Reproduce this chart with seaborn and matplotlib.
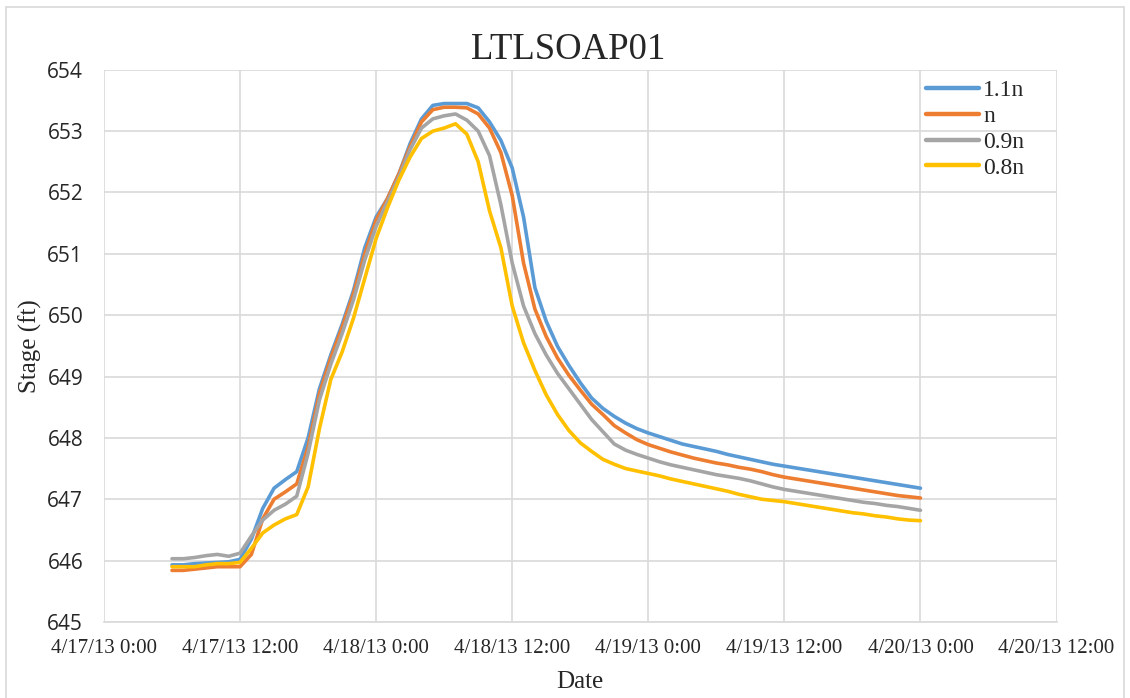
import pandas as pd

import matplotlib.pyplot as plt
import matplotlib.dates as mdates
from matplotlib.patches import Rectangle
from matplotlib.ticker import FuncFormatter

import seaborn as sns


# hourly readings, 4/17/13 6:00 -> 4/20/13 0:00
START_TIME = "2013-04-17 06:00"
N_HOURS = 67

stage_11n = [
    645.93, 645.93, 645.95, 645.96, 645.97, 645.98, 646.02, 646.35, 646.85, 647.18,
    647.32, 647.45, 648.00, 648.80, 649.35, 649.85, 650.40, 651.10, 651.60, 651.90,
    652.30, 652.80, 653.20, 653.42, 653.45, 653.45, 653.45, 653.38, 653.15, 652.85,
    652.40, 651.60, 650.45, 649.90, 649.49, 649.18, 648.90, 648.65, 648.48, 648.35,
    648.24, 648.15, 648.08, 648.02, 647.96, 647.90, 647.86, 647.82, 647.78, 647.73,
    647.69, 647.65, 647.61, 647.57, 647.54, 647.51, 647.48, 647.45, 647.42, 647.39,
    647.36, 647.33, 647.30, 647.27, 647.24, 647.21, 647.18,
]

stage_n = [
    645.84, 645.84, 645.86, 645.88, 645.90, 645.90, 645.90, 646.10, 646.68, 647.00,
    647.12, 647.25, 647.85, 648.72, 649.30, 649.80, 650.35, 651.00, 651.55, 651.90,
    652.30, 652.75, 653.15, 653.35, 653.39, 653.39, 653.38, 653.28, 653.05, 652.65,
    651.95, 650.85, 650.10, 649.65, 649.30, 649.02, 648.78, 648.55, 648.38, 648.20,
    648.08, 647.97, 647.89, 647.83, 647.77, 647.72, 647.67, 647.63, 647.59, 647.56,
    647.52, 647.49, 647.45, 647.40, 647.36, 647.33, 647.30, 647.27, 647.24, 647.21,
    647.18, 647.15, 647.12, 647.09, 647.06, 647.04, 647.02,
]

stage_09n = [
    646.03, 646.03, 646.05, 646.08, 646.10, 646.07, 646.12, 646.40, 646.66, 646.82,
    646.92, 647.05, 647.75, 648.62, 649.20, 649.70, 650.25, 650.90, 651.45, 651.85,
    652.25, 652.70, 653.05, 653.20, 653.25, 653.28, 653.18, 653.00, 652.60, 651.80,
    650.85, 650.15, 649.70, 649.35, 649.05, 648.80, 648.55, 648.30, 648.10, 647.90,
    647.80, 647.73, 647.67, 647.61, 647.56, 647.52, 647.48, 647.44, 647.40, 647.37,
    647.34, 647.30, 647.25, 647.20, 647.16, 647.13, 647.10, 647.07, 647.04, 647.01,
    646.98, 646.95, 646.93, 646.90, 646.88, 646.85, 646.82,
]

stage_08n = [
    645.90, 645.90, 645.90, 645.93, 645.95, 645.95, 645.97, 646.20, 646.45, 646.58,
    646.68, 646.75, 647.20, 648.15, 648.95, 649.40, 649.95, 650.60, 651.25, 651.75,
    652.20, 652.58, 652.88, 653.00, 653.05, 653.12, 652.95, 652.50, 651.70, 651.10,
    650.15, 649.55, 649.10, 648.70, 648.38, 648.12, 647.92, 647.78, 647.65, 647.57,
    647.50, 647.46, 647.42, 647.38, 647.33, 647.29, 647.25, 647.21, 647.17, 647.13,
    647.08, 647.04, 647.00, 646.98, 646.96, 646.93, 646.90, 646.87, 646.84, 646.81,
    646.78, 646.76, 646.73, 646.71, 646.68, 646.66, 646.65,
]

series_names = ["1.1n", "n", "0.9n", "0.8n"]
series_colors = ["#5B9BD5", "#ED7D31", "#A5A5A5", "#FFC000"]

y_ticks = [645, 646, 647, 648, 649, 650, 651, 652, 653, 654]

SERIF = ["Liberation Serif", "DejaVu Serif"]
SANS = ["Open Sans", "DejaVu Sans"]
GRID = "#D9D9D9"


def build_frame():

    times = pd.date_range(START_TIME, periods=N_HOURS, freq="h")

    frames = []

    for name, values in zip(
        series_names,
        [stage_11n, stage_n, stage_09n, stage_08n]
    ):
        frames.append(
            pd.DataFrame({"Date": times, "Stage": values, "Series": name})
        )

    return pd.concat(frames, ignore_index=True)


def date_label(value, pos):

    d = mdates.num2date(value)

    return f"{d.month}/{d.day}/{d.strftime('%y')} {d.hour}:{d.minute:02d}"


def plot_stage():

    df = build_frame()

    sns.set_style("whitegrid")

    fig = plt.figure(figsize=(11.3, 6.98), dpi=100)

    ax = fig.add_axes([0.092, 0.109, 0.843, 0.791])

    sns.lineplot(
        data=df,
        x="Date",
        y="Stage",
        hue="Series",
        hue_order=series_names,
        palette=series_colors,
        linewidth=2.6,
        ax=ax,
    )

    ax.set_xlim(
        pd.Timestamp("2013-04-17 00:00"),
        pd.Timestamp("2013-04-20 12:00")
    )
    ax.set_ylim(645, 654)

    ax.xaxis.set_major_locator(mdates.HourLocator(byhour=[0, 12]))
    ax.xaxis.set_major_formatter(FuncFormatter(date_label))
    ax.set_yticks(y_ticks)

    ax.grid(True, color=GRID, linewidth=1.2)
    for side in ["left", "right", "top"]:
        ax.spines[side].set_visible(False)
    ax.spines["bottom"].set_color(GRID)
    ax.spines["bottom"].set_linewidth(1.2)

    ax.tick_params(axis="both", length=0)
    ax.tick_params(axis="x", pad=12)
    ax.tick_params(axis="y", pad=15)

    for label in ax.get_xticklabels():
        label.set_fontfamily(SERIF)
        label.set_fontsize(15)
    for label in ax.get_yticklabels():
        label.set_fontfamily(SANS)
        label.set_fontsize(15)

    ax.set_xlabel("Date", fontfamily=SERIF, fontsize=18, labelpad=10)
    ax.set_ylabel("Stage (ft)", fontfamily=SERIF, fontsize=18, labelpad=4)

    fig.text(
        0.503, 0.929, "LTLSOAP01",
        ha="center", va="center",
        fontfamily=SERIF, fontsize=26.5
    )

    legend = ax.legend(
        loc="upper left",
        bbox_to_anchor=(0.853, 0.999),
        frameon=False,
        prop={"family": SERIF, "size": 17},
        handlelength=2.25,
        handletextpad=0.17,
        labelspacing=0.18,
        borderaxespad=0,
    )
    for line in legend.get_lines():
        line.set_linewidth(3.2)

    fig.patches.append(
        Rectangle(
            (0.005, -0.01), 0.99, 1.0,
            transform=fig.transFigure,
            fill=False, edgecolor=GRID, linewidth=1.2
        )
    )

    plt.savefig("out.png", dpi=100)


if __name__ == "__main__":

    plot_stage()
